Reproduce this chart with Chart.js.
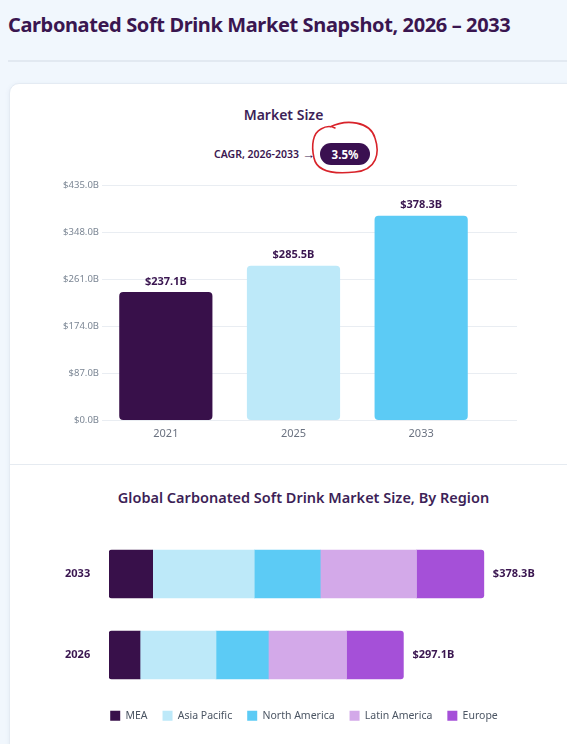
<!DOCTYPE html>
<html>
<head>
<meta charset="utf-8">
<script src="https://cdn.jsdelivr.net/npm/chart.js@4.4.1/dist/chart.umd.min.js"></script>
<style>
  html, body { margin: 0; padding: 0; }
  body {
    width: 567px; height: 744px; overflow: hidden; position: relative;
    background: #f1f7fd; font-family: "Noto Sans", "Open Sans", sans-serif;
  }
  h1 {
    position: absolute; left: 8px; top: 10.5px; margin: 0;
    font-size: 20px; font-weight: 700; color: #3a1650; white-space: nowrap; letter-spacing: -0.38px;
  }
  .rule { position: absolute; left: 8px; right: 0; top: 60px; height: 2px; background: #e2e9f1; }
  .card {
    position: absolute; left: 9px; top: 83px; width: 600px; height: 700px;
    background: #fff; border: 1px solid #e4ebf3; border-radius: 10px;
    box-shadow: 0 1px 4px rgba(120, 140, 170, 0.12);
  }
  .divider { position: absolute; left: 9px; right: 0; top: 464px; height: 1px; background: #e6ebf1; }
  .sub {
    position: absolute; left: 0; width: 567px; text-align: center; margin: 0;
    color: #3d1f57; font-weight: 600; white-space: nowrap;
  }
  .cagr {
    position: absolute; top: 143px; left: 214px; height: 22px; display: flex; align-items: center;
    font-size: 10.5px; font-weight: 600; color: #3a1650; white-space: nowrap;
  }
  .arrow { font-size: 13px; margin-left: 3px; line-height: 1; }
  .pill {
    margin-left: 5px; width: 50px; height: 22px; border-radius: 11px; background: #3a1050;
    color: #fff; font-weight: 700; font-size: 11.5px; display: flex; align-items: center; justify-content: center;
  }
  canvas { position: absolute; left: 0; }
  svg { position: absolute; left: 0; top: 0; }
</style>
</head>
<body>
<h1>Carbonated Soft Drink Market Snapshot, 2026 – 2033</h1>
<div class="rule"></div>
<div class="card"></div>
<div class="divider"></div>
<p class="sub" style="top:105px;font-size:14px;">Market Size</p>
<div class="cagr">CAGR, 2026-2033<span class="arrow">→</span><div class="pill">3.5%</div></div>
<svg width="567" height="200">
  <path d="M330 127 C346 119 370 121 375 138 C380 153 377 170 355 172 C337 174 317 173 314 158 C311 145 313 133 321 129 C326 126 331 126 335 128"
        fill="none" stroke="#d8232a" stroke-width="1.6" stroke-linecap="round"/>
</svg>
<p class="sub" style="top:487px;font-size:14.5px;left:20px;">Global Carbonated Soft Drink Market Size, By Region</p>

<canvas id="sizeChart" style="top:170px;" width="567" height="280"></canvas>
<canvas id="regionChart" style="top:520px;" width="567" height="224"></canvas>

<script>
// Market size by year
const years = ['2021', '2025', '2033'];
const marketSize = [237.1, 285.5, 378.3];
const sizeTickMax = 435;
const sizeTickStep = 87;

// Regional split
const regionYears = ['2033', '2026'];
const regions = ['MEA', 'Asia Pacific', 'North America', 'Latin America', 'Europe'];
const mea = [44.1, 31.3];
const asiaPacific = [102.5, 76.7];
const northAmerica = [66.6, 52.8];
const latinAmerica = [97.2, 79.0];
const europe = [67.9, 57.3];
const regionTotals = [378.3, 297.1];

const regionColors = ['#38104a', '#bde9f9', '#5ccbf5', '#d3a9e9', '#a550d8'];
const sizeColors = ['#38104a', '#bde9f9', '#5ccbf5'];
const fontFamily = '"Noto Sans", "Open Sans", sans-serif';

Chart.defaults.font.family = fontFamily;
Chart.defaults.animation = false;

const fmt = v => '$' + v.toFixed(1) + 'B';

// gridlines that run a bit past the last bar, as in the original
const longGrid = {
    id: 'longGrid',
    beforeDatasetsDraw(chart) {
        const { ctx, chartArea, scales } = chart;
        ctx.save();
        ctx.strokeStyle = '#e9edf2';
        ctx.lineWidth = 1;
        scales.y.ticks.forEach(t => {
            const y = Math.round(scales.y.getPixelForValue(t.value)) + 0.5;
            ctx.beginPath();
            ctx.moveTo(chartArea.left, y);
            ctx.lineTo(chartArea.right + 32, y);
            ctx.stroke();
        });
        ctx.restore();
    }
};

const barValues = {
    id: 'barValues',
    afterDatasetsDraw(chart) {
        const { ctx } = chart;
        const meta = chart.getDatasetMeta(0);
        ctx.save();
        ctx.font = 'bold 11px ' + fontFamily;
        ctx.fillStyle = '#3a1650';
        ctx.textAlign = 'center';
        ctx.textBaseline = 'bottom';
        meta.data.forEach((bar, i) => {
            ctx.fillText(fmt(marketSize[i]), bar.x, bar.y - 5);
        });
        ctx.restore();
    }
};

new Chart(document.getElementById('sizeChart'), {
    type: 'bar',
    data: {
        labels: years,
        datasets: [{
            label: 'Market Size',
            data: marketSize,
            backgroundColor: sizeColors,
            borderRadius: 4,
            borderSkipped: false,
            categoryPercentage: 1,
            barPercentage: 0.73
        }]
    },
    options: {
        responsive: false,
        layout: { padding: { left: 42, right: 82, top: 15, bottom: 0 } },
        plugins: { legend: { display: false }, tooltip: { enabled: false } },
        scales: {
            y: {
                min: 0,
                max: sizeTickMax,
                afterFit: s => { s.width = 60; },
                ticks: {
                    stepSize: sizeTickStep,
                    padding: 3,
                    color: '#7b8694',
                    font: { size: 9.5 },
                    callback: v => fmt(v)
                },
                grid: { display: false, drawTicks: false },
                border: { display: false }
            },
            x: {
                afterFit: s => { s.height = 30; },
                ticks: { color: '#6b7280', font: { size: 11 }, padding: 7 },
                grid: { display: false, drawTicks: false },
                border: { display: false }
            }
        }
    },
    plugins: [longGrid, barValues]
});

const totals = {
    id: 'totals',
    afterDatasetsDraw(chart) {
        const { ctx } = chart;
        const last = chart.getDatasetMeta(chart.data.datasets.length - 1);
        ctx.save();
        ctx.font = 'bold 11px ' + fontFamily;
        ctx.fillStyle = '#3a1650';
        ctx.textAlign = 'left';
        ctx.textBaseline = 'middle';
        last.data.forEach((bar, i) => {
            ctx.fillText(fmt(regionTotals[i]), bar.x + 9, bar.y);
        });
        ctx.restore();
    }
};

const regionData = [mea, asiaPacific, northAmerica, latinAmerica, europe];

new Chart(document.getElementById('regionChart'), {
    type: 'bar',
    data: {
        labels: regionYears,
        datasets: regions.map((name, i) => ({
            label: name,
            data: regionData[i],
            backgroundColor: regionColors[i],
            borderSkipped: false,
            borderRadius: i === 0 ? { topLeft: 3, bottomLeft: 3, topRight: 0, bottomRight: 0 }
                : i === regions.length - 1 ? { topLeft: 0, bottomLeft: 0, topRight: 3, bottomRight: 3 } : 0,
            barThickness: 48
        }))
    },
    options: {
        indexAxis: 'y',
        responsive: false,
        layout: { padding: { left: 65, right: 24, top: 13.5, bottom: 13 } },
        plugins: {
            tooltip: { enabled: false },
            legend: {
                position: 'bottom',
                labels: {
                    boxWidth: 10,
                    boxHeight: 10,
                    padding: 15,
                    color: '#4b5563',
                    font: { size: 10.5 }
                }
            }
        },
        scales: {
            x: { stacked: true, min: 0, max: 438, display: false },
            y: {
                stacked: true,
                afterFit: s => { s.width = 44; },
                ticks: { color: '#3a1650', font: { size: 11, weight: 'bold' }, padding: 0, crossAlign: 'far' },
                grid: { display: false, drawTicks: false },
                border: { display: false }
            }
        }
    },
    plugins: [totals]
});
</script>
</body>
</html>
